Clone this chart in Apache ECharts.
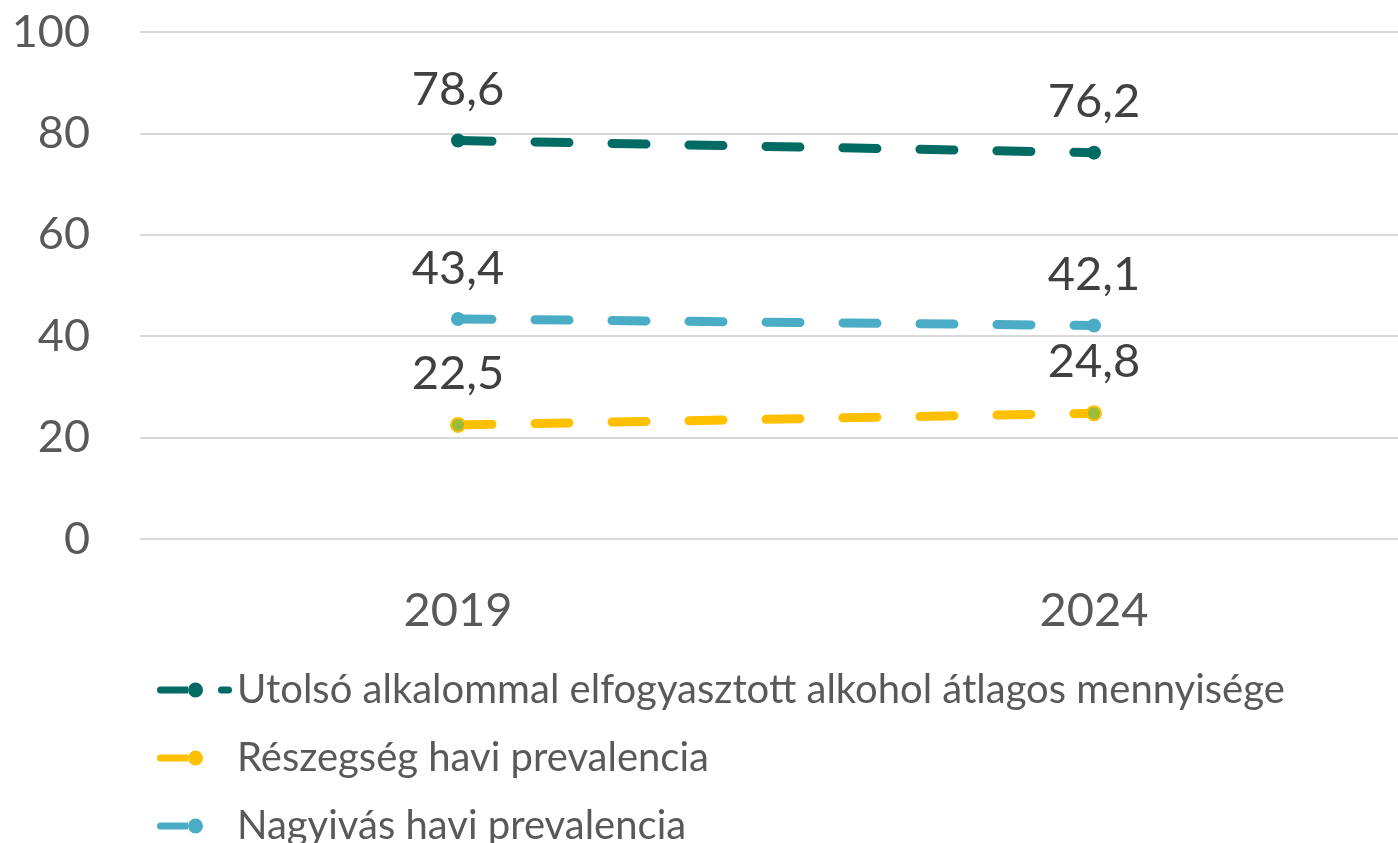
<!DOCTYPE html>
<html>
<head>
<meta charset="utf-8">
<script src="https://cdn.jsdelivr.net/npm/echarts@6/dist/echarts.min.js"></script>
<style>
  html, body { margin: 0; padding: 0; background: #fff; }
  #chart { width: 1398px; height: 843px; }
</style>
</head>
<body>
<div id="chart"></div>
<script>
  const years = ['2019', '2024'];
  const atlagos = [78.6, 76.2];
  const reszegseg = [22.5, 24.8];
  const nagyivas = [43.4, 42.1];
  const yTicks = [0, 20, 40, 60, 80, 100];
  const names = ['Utolsó alkalommal elfogyasztott alkohol átlagos mennyisége',
                 'Részegség havi prevalencia', 'Nagyivás havi prevalencia'];

  const font = 'Lato, "Open Sans", sans-serif';
  const comma = p => String(p.value).replace('.', ',');

  // legend icons: thick rounded line + dot at its end (first one has an extra dash)
  const bar = 'M3.5,4.5H31V11.5H3.5A3.5,3.5 0 0 1 3.5,4.5Z';
  const dot = 'M31,8A7.5,7.5 0 1 1 46,8A7.5,7.5 0 1 1 31,8Z';
  const dash = 'M64.5,4.5H71.5A3.5,3.5 0 0 1 71.5,11.5H64.5A3.5,3.5 0 0 1 64.5,4.5Z';
  const pad = 'M74.9,8L75,8L75,8.1Z';
  const iconA = 'path://' + bar + dot + dash;
  const iconB = 'path://' + bar + dot + pad;

  function line(name, data, color, dotColor){
    return {
      name: name, type: 'line', data: data,
      symbol: 'circle', symbolSize: 14,
      itemStyle: { color: dotColor || color, borderColor: color, borderWidth: dotColor ? 2 : 0 },
      lineStyle: { color: color, width: 9, type: [34, 43], cap: 'round' },
      label: { show: true, position: 'top', distance: 20, formatter: comma,
               fontSize: 47, color: '#404040', fontFamily: font },
      emphasis: { disabled: true }
    };
  }

  const chart = echarts.init(document.getElementById('chart'));
  chart.setOption({
    animation: false,
    grid: { left: 140, top: 32, width: 1272, height: 507, outerBoundsMode: 'none', containLabel: false },
    xAxis: {
      type: 'category', data: years,
      axisLine: { show: false }, axisTick: { show: false },
      axisLabel: { fontSize: 47, color: '#595959', fontFamily: font, margin: 48 }
    },
    yAxis: {
      type: 'value', min: yTicks[0], max: yTicks[yTicks.length-1], interval: 20,
      axisLine: { show: false }, axisTick: { show: false },
      splitLine: { lineStyle: { color: '#d9d9d9', width: 2 } },
      axisLabel: { fontSize: 45, color: '#595959', fontFamily: font, margin: 50 }
    },
    legend: {
      orient: 'vertical', left: 157, top: 670, height: 250, padding: 0, itemGap: 28,
      itemWidth: 75, itemHeight: 16, itemStyle: { borderWidth: 0 },
      textStyle: { fontSize: 40, color: '#595959', fontFamily: font },
      data: [
        { name: names[0], icon: iconA, itemStyle: { color: '#006b63' } },
        { name: names[1], icon: iconB, itemStyle: { color: '#ffc000' } },
        { name: names[2], icon: iconB, itemStyle: { color: '#4bacc6' } }
      ]
    },
    series: [
      line(names[0], atlagos, '#006b63'),
      line(names[1], reszegseg, '#ffc000', '#9bbb3a'),
      line(names[2], nagyivas, '#4bacc6')
    ]
  });
</script>
</body>
</html>
